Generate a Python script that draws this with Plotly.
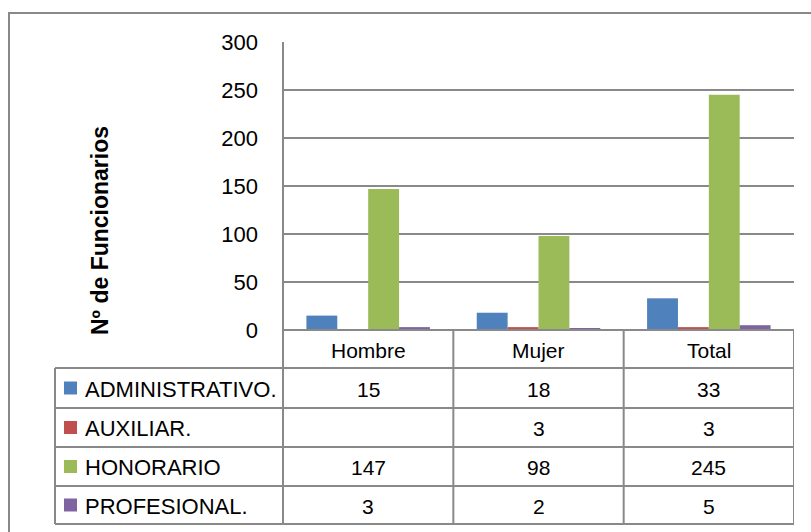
import plotly.graph_objects as go

# ---- data ----
categories = ["Hombre", "Mujer", "Total"]
series_names = ["ADMINISTRATIVO.", "AUXILIAR.", "HONORARIO", "PROFESIONAL."]
administrativo = [15, 18, 33]
auxiliar = [None, 3, 3]
honorario = [147, 98, 245]
profesional = [3, 2, 5]
y_ticks = [0, 50, 100, 150, 200, 250, 300]
y_title = "Nº de Funcionarios"

series_values = [administrativo, auxiliar, honorario, profesional]
colors = ["#4F81BD", "#C0504D", "#9BBB59", "#8064A2"]

# ---- layout constants (pixels) ----
W, H = 811, 532
PL, PR, PT, PB = 283, 794, 42, 330          # plot area edges
GRAY = "#898989"
FONT = "Liberation Sans, Arial, sans-serif"
row_edges_px = [330, 368, 408, 447, 486, 524]  # header + 4 rows
table_left_px = 55

def xp(px):
    return (px - PL) / (PR - PL)

def yp(py):
    return (PB - py) / (PB - PT)

fig = go.Figure()
for name, vals, col in zip(series_names, series_values, colors):
    fig.add_trace(go.Bar(
        x=categories, y=[v if v is not None else 0 for v in vals],
        name=name, marker=dict(color=col, line=dict(width=0)),
        showlegend=False,
    ))

shapes = []
line = dict(color=GRAY, width=2)
# horizontal table lines
for i, ry in enumerate(row_edges_px):
    x0 = xp(PL) if i == 0 else xp(table_left_px)
    shapes.append(dict(type="line", xref="paper", yref="paper",
                       x0=x0, x1=1, y0=yp(ry), y1=yp(ry), line=line))
# vertical lines
shapes.append(dict(type="line", xref="paper", yref="paper",
                   x0=xp(table_left_px), x1=xp(table_left_px),
                   y0=yp(row_edges_px[1]), y1=yp(row_edges_px[-1]), line=line))
shapes.append(dict(type="line", xref="paper", yref="paper",
                   x0=0, x1=0, y0=1, y1=yp(row_edges_px[-1]), line=line))
for k in range(len(categories)):
    shapes.append(dict(type="line", xref="x", yref="paper",
                       x0=k + 0.5, x1=k + 0.5,
                       y0=0, y1=yp(row_edges_px[-1]), line=line))
# outer chart border (left and top visible)
shapes.append(dict(type="rect", xref="paper", yref="paper",
                   x0=xp(9), x1=xp(830), y0=yp(560), y1=yp(13),
                   line=dict(color=GRAY, width=2), fillcolor="rgba(0,0,0,0)", layer="below"))

annotations = []
# header category labels
for c in categories:
    annotations.append(dict(x=c, y=yp((row_edges_px[0] + row_edges_px[1]) / 2 + 1),
                            xref="x", yref="paper", text=c, showarrow=False,
                            font=dict(size=21, color="black", family=FONT),
                            xanchor="center", yanchor="middle"))
# rows
for r, (name, vals, col) in enumerate(zip(series_names, series_values, colors)):
    yc = (row_edges_px[r + 1] + row_edges_px[r + 2]) / 2
    shapes.append(dict(type="rect", xref="paper", yref="paper",
                       x0=xp(64), x1=xp(77), y0=yp(yc + 6.5), y1=yp(yc - 6.5),
                       fillcolor=col, line=dict(width=0)))
    annotations.append(dict(x=xp(83), y=yp(yc + 1), xref="paper", yref="paper",
                            text=name, showarrow=False,
                            font=dict(size=22, color="black", family=FONT),
                            xanchor="left", yanchor="middle"))
    for c, v in zip(categories, vals):
        if v is None:
            continue
        annotations.append(dict(x=c, y=yp(yc + 1), xref="x", yref="paper",
                                text=str(v), showarrow=False,
                                font=dict(size=21, color="black", family=FONT),
                                xanchor="center", yanchor="middle"))
# y title
annotations.append(dict(x=xp(100), y=yp(231), xref="paper", yref="paper",
                        text="<b>" + y_title + "</b>", textangle=-90, showarrow=False,
                        font=dict(size=23, color="black", family=FONT),
                        xanchor="center", yanchor="middle"))

fig.update_layout(
    width=W, height=H,
    margin=dict(l=PL, r=W - PR, t=PT, b=H - PB, pad=0),
    paper_bgcolor="white", plot_bgcolor="white",
    barmode="group", bargap=0.275, bargroupgap=0,
    xaxis=dict(range=[-0.5, 2.5], showticklabels=False, showgrid=False,
               zeroline=False, showline=False, fixedrange=True),
    yaxis=dict(range=[0, 300], tickvals=y_ticks, showgrid=True,
               gridcolor=GRAY, gridwidth=1.5, zeroline=False, showline=False,
               ticks="", ticklabelstandoff=24,
               tickfont=dict(size=22, color="black", family=FONT)),
    shapes=shapes, annotations=annotations,
)

fig.write_html("out.html", config={"displayModeBar": False},
               post_script="document.body.style.margin='0';document.body.style.overflow='hidden';")
